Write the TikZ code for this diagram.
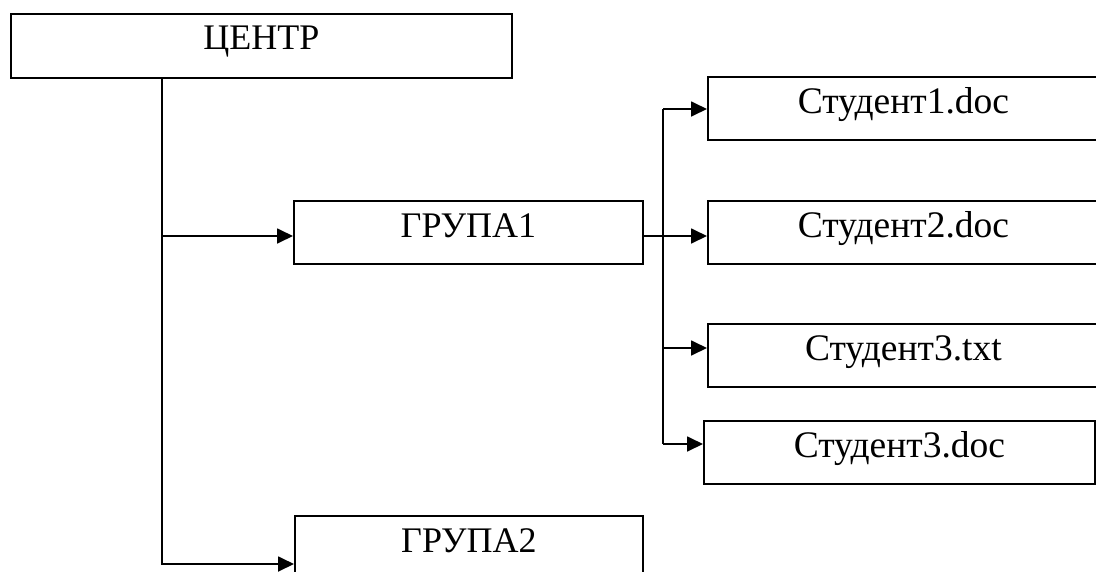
\documentclass[tikz,border=0pt]{standalone}
\usepackage{fontspec}
\setmainfont{Liberation Serif}
\usetikzlibrary{arrows.meta,calc}
\begin{document}
\begin{tikzpicture}[x=1pt,y=-1pt,
  box/.style={draw,line width=1.8pt,anchor=north west,inner sep=0pt,
    minimum width=#1,minimum height=63pt,text height=37pt,text depth=26pt,
    font=\fontsize{36}{40}\selectfont},
  stud/.style={box=#1,font=\fontsize{37.5}{42}\selectfont},
  arr/.style={line width=1.8pt,-{Triangle[length=16pt,width=15pt]}},
  ln/.style={line width=1.8pt}]
\useasboundingbox (0,0) rectangle (1096,571);
\clip (0,0) rectangle (1096,571);
\node[box=501pt,minimum height=64pt,text height=36pt,text depth=28pt] (c) at (10,13) {ЦЕНТР};
\node[box=349pt] (g1) at (293,200) {ГРУПА1};
\node[box=348pt] (g2) at (294,515) {ГРУПА2};
\node[stud=391pt] (s1) at (707,76) {Студент1.doc};
\node[stud=391pt] (s2) at (707,200) {Студент2.doc};
\node[stud=391pt] (s3) at (707,323) {Студент3.txt};
\node[stud=391pt] (s4) at (703,420) {Студент3.doc};
\coordinate (j1) at (162,236);
\coordinate (j2) at (162,564);
\coordinate (bs1) at (663,109);
\coordinate (bs2) at (663,236);
\coordinate (bs3) at (663,348);
\coordinate (bs4) at (663,444);
\draw[arr] (c.south -| j1) -- (j2) -- (j2 -| g2.west);
\draw[arr] (j1) -- (j1 -| g1.west);
\draw[ln] (bs1) -- (bs4);
\draw[arr] (g1.east |- bs2) -- (bs2 -| s2.west);
\draw[arr] (bs1) -- (bs1 -| s1.west);
\draw[arr] (bs3) -- (bs3 -| s3.west);
\draw[arr] (bs4) -- (bs4 -| s4.west);
\end{tikzpicture}
\end{document}
